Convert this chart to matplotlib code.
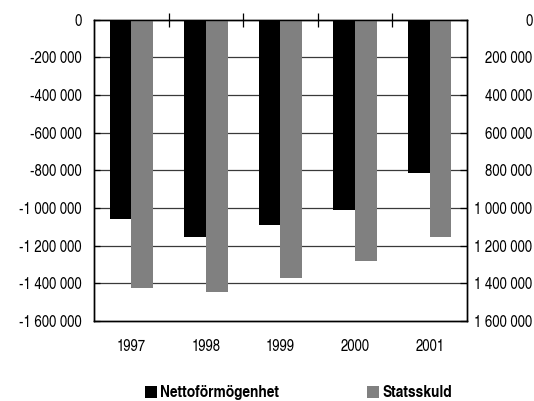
import numpy as np
import matplotlib.pyplot as plt
from matplotlib.ticker import FuncFormatter

plt.rcParams['font.family'] = ['TeX Gyre Heros Cn', 'DejaVu Sans']
plt.rcParams['font.size'] = 11.5

years = ['1997', '1998', '1999', '2000', '2001']
netto = [-1058000, -1152000, -1090000, -1010000, -812000]
skuld = [1423000, 1444000, 1370000, 1281000, 1152000]


def sp(v, pos=None):
    # thousands separated by a space
    s = f"{abs(int(v)):,}".replace(",", " ")
    return ("-" + s) if v < 0 else s


fig = plt.figure(figsize=(5.34, 4.01), dpi=100)
ax = fig.add_axes([0.176, 0.1995, 0.6985, 0.7515])
x = np.arange(len(years))
w = 0.29

ax.set_axisbelow(True)
for yv in np.arange(-1400000, 0, 200000):
    ax.axhline(yv, color='#3a3a3a', lw=0.9, zorder=0)
ax.bar(x - w / 2, netto, w, color='black', label='Nettoförmögenhet', zorder=2)
ax.set_xlim(-0.5, len(years) - 0.5)
ax.set_ylim(-1600000, 0)
ax.set_yticks(np.arange(-1600000, 1, 200000))
ax.yaxis.set_major_formatter(FuncFormatter(sp))
ax.tick_params(axis='y', direction='in', length=4, width=0.9, pad=9)

# category labels below, boundary ticks on the top line
ax.set_xticks(x)
ax.set_xticklabels(years)
ax.tick_params(axis='x', which='major', length=0, pad=13)
ax.set_xticks(np.arange(0.5, len(years) - 0.5, 1), minor=True)
ax.tick_params(axis='x', which='minor', top=True, bottom=False,
               direction='inout', length=10, width=0.9)

ax2 = ax.twinx()
ax2.bar(x + w / 2, skuld, w, color='#808080', label='Statsskuld', zorder=2)
ax2.set_ylim(1600000, 0)
ax2.set_yticks(np.arange(0, 1600001, 200000))
ax2.yaxis.set_major_formatter(FuncFormatter(sp))
# right-hand labels are flush right near the figure edge
ax2.tick_params(axis='y', direction='in', length=5, width=0.9, pad=47)
for t in ax2.get_yticklabels():
    t.set_horizontalalignment('right')

for a in (ax, ax2):
    for s in a.spines.values():
        s.set_linewidth(1.0)
        s.set_color('black')

h1, l1 = ax.get_legend_handles_labels()
h2, l2 = ax2.get_legend_handles_labels()
fig.legend(h1 + h2, l1 + l2, loc='center', bbox_to_anchor=(0.559, 0.02),
           ncol=2, frameon=False, handlelength=0.72, handleheight=0.72,
           handletextpad=0.2, columnspacing=5.3, borderpad=0.1,
           prop={'weight': 'bold', 'size': 12})

fig.savefig('out.png', dpi=100)
